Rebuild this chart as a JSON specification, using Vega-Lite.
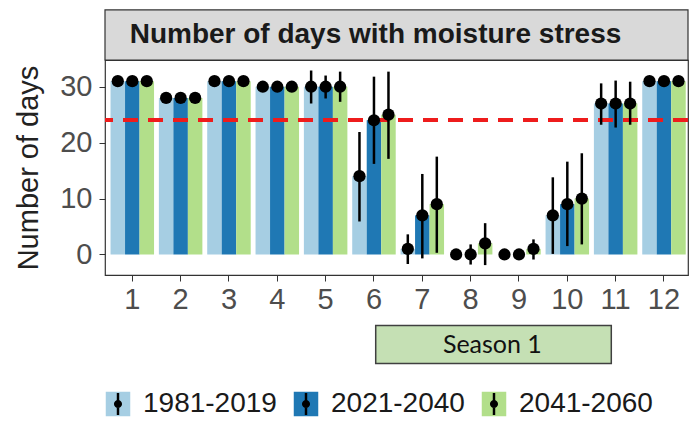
{
  "$schema": "https://vega.github.io/schema/vega-lite/v6.json",
  "padding": {"left": 14, "top": 9, "right": 0, "bottom": 4},
  "width": 583,
  "height": 215,
  "config": {
    "font": "Liberation Sans",
    "view": {"stroke": "#333333", "strokeWidth": 1.2, "fill": "white"},
    "axis": {"labelFont": "Liberation Sans", "titleFont": "Liberation Sans"}
  },
  "datasets": {
    "stress": [
      {"month": 1, "period": "1981-2019", "days": 31, "lo": 31, "hi": 31},
      {"month": 1, "period": "2021-2040", "days": 31, "lo": 31, "hi": 31},
      {"month": 1, "period": "2041-2060", "days": 31, "lo": 31, "hi": 31},
      {"month": 2, "period": "1981-2019", "days": 28, "lo": 28, "hi": 28},
      {"month": 2, "period": "2021-2040", "days": 28, "lo": 28, "hi": 28},
      {"month": 2, "period": "2041-2060", "days": 28, "lo": 28, "hi": 28},
      {"month": 3, "period": "1981-2019", "days": 31, "lo": 31, "hi": 31},
      {"month": 3, "period": "2021-2040", "days": 31, "lo": 31, "hi": 31},
      {"month": 3, "period": "2041-2060", "days": 31, "lo": 31, "hi": 31},
      {"month": 4, "period": "1981-2019", "days": 30, "lo": 30, "hi": 30},
      {"month": 4, "period": "2021-2040", "days": 30, "lo": 30, "hi": 30},
      {"month": 4, "period": "2041-2060", "days": 30, "lo": 30, "hi": 30},
      {"month": 5, "period": "1981-2019", "days": 30, "lo": 27, "hi": 32.9},
      {"month": 5, "period": "2021-2040", "days": 30, "lo": 27.9, "hi": 32},
      {"month": 5, "period": "2041-2060", "days": 30, "lo": 27.3, "hi": 32.7},
      {"month": 6, "period": "1981-2019", "days": 14, "lo": 5.9, "hi": 21.9},
      {"month": 6, "period": "2021-2040", "days": 24, "lo": 16.2, "hi": 31.8},
      {"month": 6, "period": "2041-2060", "days": 25, "lo": 17.1, "hi": 32.7},
      {"month": 7, "period": "1981-2019", "days": 1, "lo": -1.7, "hi": 3.6},
      {"month": 7, "period": "2021-2040", "days": 7, "lo": -0.7, "hi": 14.4},
      {"month": 7, "period": "2041-2060", "days": 9, "lo": 0.3, "hi": 17.5},
      {"month": 8, "period": "1981-2019", "days": 0, "lo": 0, "hi": 0},
      {"month": 8, "period": "2021-2040", "days": 0, "lo": -1.8, "hi": 1.8},
      {"month": 8, "period": "2041-2060", "days": 2, "lo": -1.9, "hi": 5.6},
      {"month": 9, "period": "1981-2019", "days": 0, "lo": 0, "hi": 0},
      {"month": 9, "period": "2021-2040", "days": 0, "lo": 0, "hi": 0},
      {"month": 9, "period": "2041-2060", "days": 1, "lo": -0.9, "hi": 2.7},
      {"month": 10, "period": "1981-2019", "days": 7, "lo": 0.1, "hi": 13.8},
      {"month": 10, "period": "2021-2040", "days": 9, "lo": 1.5, "hi": 16.6},
      {"month": 10, "period": "2041-2060", "days": 10, "lo": 1.8, "hi": 18.1},
      {"month": 11, "period": "1981-2019", "days": 27, "lo": 23.2, "hi": 30.6},
      {"month": 11, "period": "2021-2040", "days": 27, "lo": 22.7, "hi": 31.1},
      {"month": 11, "period": "2041-2060", "days": 27, "lo": 23.2, "hi": 30.9},
      {"month": 12, "period": "1981-2019", "days": 31, "lo": 31, "hi": 31},
      {"month": 12, "period": "2021-2040", "days": 31, "lo": 31, "hi": 31},
      {"month": 12, "period": "2041-2060", "days": 31, "lo": 31, "hi": 31}
    ]
  },
  "data": {"name": "stress"},
  "layer": [
    {
      "data": {"values": [{"label": "Number of days with moisture stress"}]},
      "mark": {"type": "rect", "fill": "#d9d9d9", "stroke": "#333333", "strokeWidth": 1.2},
      "encoding": {
        "y": {"datum": 43.74, "type": "quantitative", "axis": null},
        "y2": {"datum": 34.78}
      }
    },
    {
      "data": {"values": [{"label": "Number of days with moisture stress"}]},
      "mark": {"type": "text", "fontWeight": "bold", "fontSize": 28, "color": "#1a1a1a", "dx": -21, "baseline": "middle"},
      "encoding": {
        "y": {"datum": 39.26, "type": "quantitative", "axis": null},
        "text": {"field": "label"}
      }
    },
    {
      "mark": {"type": "bar"},
      "encoding": {
        "x": {
          "field": "month", "type": "ordinal",
          "scale": {"paddingInner": 0.1, "paddingOuter": 0.0807, "align": 0.71},
          "axis": {"title": null, "labelAngle": 0, "labelFontSize": 29, "labelColor": "#4d4d4d", "tickColor": "#333333", "tickSize": 6, "labelPadding": 4, "domain": false, "gridColor": "#ebebeb", "gridWidth": 1.3, "bandPosition": 0.5}
        },
        "xOffset": {"field": "period", "scale": {"paddingInner": 0, "paddingOuter": 0}},
        "y": {
          "field": "days", "type": "quantitative",
          "scale": {"domain": [-3.67, 34.78], "nice": false, "zero": false},
          "axis": {"title": "Number of days", "values": [0, 10, 20, 30], "titleFontSize": 29, "titleFontWeight": "normal", "titleColor": "#222222", "titlePadding": 16, "labelFontSize": 29, "labelColor": "#4d4d4d", "tickColor": "#333333", "tickSize": 6, "labelPadding": 7, "domain": false, "gridColor": "#ebebeb", "gridWidth": 1.3}
        },
        "color": {
          "field": "period", "type": "nominal",
          "scale": {"range": ["#a6cee3", "#1f78b4", "#b2df8a"]},
          "legend": {"orient": "none", "legendX": -1, "legendY": 330, "direction": "horizontal", "title": null, "symbolType": "square", "symbolSize": 600, "symbolStrokeWidth": 0, "labelFontSize": 28, "labelColor": "#1a1a1a", "labelOffset": 11, "columnPadding": 15}
        }
      }
    },
    {
      "mark": {"type": "rule", "color": "#ee1c1c", "strokeWidth": 3.5, "strokeDash": [15, 10]},
      "encoding": {"y": {"datum": 24, "type": "quantitative", "axis": null}}
    },
    {
      "mark": {"type": "rule", "color": "black", "strokeWidth": 2.5},
      "encoding": {
        "x": {"field": "month", "type": "ordinal"},
        "xOffset": {"field": "period"},
        "y": {"field": "lo", "type": "quantitative", "axis": {"title": null, "values": [5, 15, 25], "labels": false, "ticks": false, "domain": false, "gridColor": "#f3f3f3", "gridWidth": 0.8}},
        "y2": {"field": "hi"}
      }
    },
    {
      "mark": {"type": "point", "filled": true, "color": "black", "opacity": 1, "size": 150},
      "encoding": {
        "x": {"field": "month", "type": "ordinal"},
        "xOffset": {"field": "period"},
        "y": {"field": "days", "type": "quantitative", "axis": null}
      }
    },
    {
      "data": {"values": [{"season": "Season 1", "first": 6, "last": 11, "centre": 8}]},
      "mark": {"type": "rect", "fill": "#c5e0b4", "stroke": "#404040", "strokeWidth": 1.5},
      "encoding": {
        "x": {"field": "first", "type": "ordinal", "bandPosition": 0.54},
        "x2": {"field": "last", "bandPosition": 0.4},
        "y": {"datum": -12.68, "type": "quantitative", "axis": null},
        "y2": {"datum": -19.49}
      }
    },
    {
      "data": {"values": [{"season": "Season 1", "first": 6, "last": 11, "centre": 8}]},
      "mark": {"type": "text", "font": "Lato", "fontSize": 25, "color": "#111111", "baseline": "middle"},
      "encoding": {
        "x": {"field": "centre", "type": "ordinal", "bandPosition": 1},
        "y": {"datum": -16.1, "type": "quantitative", "axis": null},
        "text": {"field": "season"}
      }
    },
    {
      "data": {"values": []},
      "mark": {"type": "point", "filled": true, "color": "black"},
      "encoding": {
        "shape": {
          "field": "glyph", "type": "nominal",
          "scale": {"domain": ["p1", "p2", "p3"], "range": ["M-0.33,0A0.33,0.33 0 1,1 0.33,0A0.33,0.33 0 1,1 -0.33,0ZM-0.1,-0.9H0.1V0.9H-0.1Z", "M-0.33,0A0.33,0.33 0 1,1 0.33,0A0.33,0.33 0 1,1 -0.33,0ZM-0.1,-0.9H0.1V0.9H-0.1Z", "M-0.33,0A0.33,0.33 0 1,1 0.33,0A0.33,0.33 0 1,1 -0.33,0ZM-0.1,-0.9H0.1V0.9H-0.1Z"]},
          "legend": {"orient": "none", "legendX": -1, "legendY": 330, "direction": "horizontal", "title": null, "zindex": 2, "symbolSize": 600, "symbolFillColor": "black", "symbolStrokeWidth": 0, "symbolOpacity": 1, "labelFontSize": 28, "labelOpacity": 0, "labelOffset": 11, "columnPadding": 15, "labelExpr": "datum.label == 'p1' ? '1981-2019' : datum.label == 'p2' ? '2021-2040' : '2041-2060'"}
        }
      }
    }
  ],
  "resolve": {"axis": {"y": "independent"}}
}
